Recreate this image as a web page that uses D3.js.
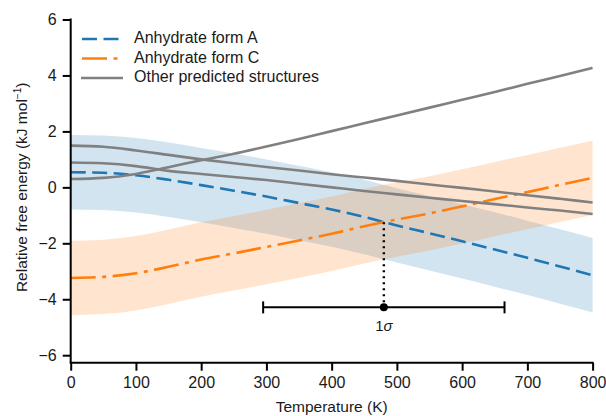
<!DOCTYPE html>
<html>
<head>
<meta charset="utf-8">
<script src="https://cdn.jsdelivr.net/npm/d3@7"></script>
<style>
  body { margin: 0; background: #fff; }
  text { font-family: "Liberation Sans", Arial, Helvetica, sans-serif; fill: #1a1a1a; }
</style>
</head>
<body>
<svg id="chart" width="606" height="416"></svg>
<script>
// Temperature grid (K) shared by all curves
const temps = [0, 50, 100, 150, 200, 250, 300, 350, 400, 450, 500, 550, 600, 650, 700, 750, 800];

// Relative free energy (kJ/mol) of each structure
const formA = [0.54, 0.52, 0.43, 0.27, 0.08, -0.12, -0.33, -0.56, -0.79, -1.06, -1.36, -1.64, -1.93, -2.22, -2.52, -2.83, -3.14];
const formC = [-3.24, -3.20, -3.07, -2.84, -2.58, -2.36, -2.13, -1.90, -1.66, -1.39, -1.15, -0.93, -0.68, -0.42, -0.17, 0.09, 0.34];
const otherRising = [0.30, 0.34, 0.48, 0.72, 0.97, 1.20, 1.46, 1.73, 2.01, 2.29, 2.57, 2.85, 3.13, 3.41, 3.70, 3.98, 4.27];
const otherUpper = [1.49, 1.45, 1.32, 1.16, 1.00, 0.86, 0.73, 0.60, 0.47, 0.35, 0.23, 0.10, -0.02, -0.15, -0.28, -0.41, -0.54];
const otherLower = [0.89, 0.86, 0.76, 0.59, 0.48, 0.37, 0.26, 0.13, 0.00, -0.13, -0.25, -0.37, -0.49, -0.60, -0.72, -0.83, -0.95];

// Uncertainty band half-width (kJ/mol) around forms A and C
const bandHalfWidth = 1.33;

// Crossing temperature with its 1σ interval
const crossingT = 480;
const crossingSigma = 185;
const crossingMarkerY = -4.29;

const xTicks = [0, 100, 200, 300, 400, 500, 600, 700, 800];
const yTicks = [-6, -4, -2, 0, 2, 4, 6];

const dashA = "15,6.5";
const dashC = "25,6.5,4,6.5";
const legendItems = [
  { label: "Anhydrate form A", color: "#1f77b4", dash: dashA, x1: 82, x2: 120 },
  { label: "Anhydrate form C", color: "#ff7f0e", dash: dashC, x1: 82, x2: 120 },
  { label: "Other predicted structures", color: "#808080", dash: null, x1: 81, x2: 123 }
];

const svg = d3.select("#chart");
const x = d3.scaleLinear().domain([0, 800]).range([70.7, 592.6]);
const y = d3.scaleLinear().domain([-6, 6]).range([355.2, 19.5]);
const axisY = 362.7;

const series = arr => temps.map((t, i) => ({ t, v: arr[i] }));

const line = d3.line().x(d => x(d.t)).y(d => y(d.v)).curve(d3.curveMonotoneX);
const band = d3.area()
  .x(d => x(d.t))
  .y0(d => y(d.v - bandHalfWidth))
  .y1(d => y(d.v + bandHalfWidth))
  .curve(d3.curveMonotoneX);

// Uncertainty bands
svg.append("path").datum(series(formA)).attr("d", band)
  .attr("fill", "#1f77b4").attr("fill-opacity", 0.2);
svg.append("path").datum(series(formC)).attr("d", band)
  .attr("fill", "#ff7f0e").attr("fill-opacity", 0.2);

// Form lines
svg.append("path").datum(series(formA)).attr("d", line)
  .attr("fill", "none").attr("stroke", "#1f77b4").attr("stroke-width", 2.6)
  .attr("stroke-dasharray", dashA);
svg.append("path").datum(series(formC)).attr("d", line)
  .attr("fill", "none").attr("stroke", "#ff7f0e").attr("stroke-width", 2.6)
  .attr("stroke-dasharray", dashC);

// Other predicted structures
[otherRising, otherUpper, otherLower].forEach(arr => {
  svg.append("path").datum(series(arr)).attr("d", line)
    .attr("fill", "none").attr("stroke", "#808080").attr("stroke-width", 2.6);
});

// Crossing point: dotted drop line, marker and 1σ interval
const crossV = d3.scaleLinear().domain(temps).range(formC)(crossingT);
svg.append("line")
  .attr("x1", x(crossingT)).attr("x2", x(crossingT))
  .attr("y1", y(crossV)).attr("y2", y(crossingMarkerY))
  .attr("stroke", "#000").attr("stroke-width", 2.4)
  .attr("stroke-dasharray", "2,4");
svg.append("line")
  .attr("x1", x(crossingT - crossingSigma)).attr("x2", x(crossingT + crossingSigma))
  .attr("y1", y(crossingMarkerY)).attr("y2", y(crossingMarkerY))
  .attr("stroke", "#000").attr("stroke-width", 2);
[crossingT - crossingSigma, crossingT + crossingSigma].forEach(t => {
  svg.append("line")
    .attr("x1", x(t)).attr("x2", x(t))
    .attr("y1", y(crossingMarkerY) - 6).attr("y2", y(crossingMarkerY) + 6)
    .attr("stroke", "#000").attr("stroke-width", 2);
});
svg.append("circle")
  .attr("cx", x(crossingT)).attr("cy", y(crossingMarkerY)).attr("r", 4)
  .attr("fill", "#000");
const sig = svg.append("text")
  .attr("x", x(crossingT)).attr("y", y(crossingMarkerY) + 24)
  .attr("text-anchor", "middle").attr("font-size", 15);
sig.append("tspan").text("1");
sig.append("tspan").attr("font-style", "italic").text("σ");

// Axes
const fmt = d => d < 0 ? "\u2212" + Math.abs(d) : String(d);
const xAxis = svg.append("g").attr("transform", `translate(0,${axisY})`)
  .call(d3.axisBottom(x).tickValues(xTicks).tickSize(8).tickPadding(6).tickSizeOuter(0));
const yAxis = svg.append("g").attr("transform", `translate(${x(0)},0)`)
  .call(d3.axisLeft(y).tickValues(yTicks).tickFormat(fmt).tickSize(8).tickPadding(6).tickSizeOuter(0));
[xAxis, yAxis].forEach(g => {
  g.select(".domain").remove();
  g.selectAll(".tick line").attr("stroke", "#000").attr("stroke-width", 2);
  g.selectAll(".tick text").attr("font-size", 16).attr("fill", "#1a1a1a")
    .style("font-family", '"Liberation Sans", Arial, sans-serif');
});
svg.append("line").attr("x1", x(0) - 1).attr("x2", x(800) + 1)
  .attr("y1", axisY).attr("y2", axisY).attr("stroke", "#000").attr("stroke-width", 2);
svg.append("line").attr("x1", x(0)).attr("x2", x(0))
  .attr("y1", y(6) - 1).attr("y2", axisY).attr("stroke", "#000").attr("stroke-width", 2);

// Axis titles
svg.append("text")
  .attr("x", (x(0) + x(800)) / 2).attr("y", 412)
  .attr("text-anchor", "middle").attr("font-size", 15.5)
  .text("Temperature (K)");
const yl = svg.append("text")
  .attr("transform", `translate(27,${y(0)}) rotate(-90)`)
  .attr("text-anchor", "middle").attr("font-size", 15.5);
yl.append("tspan").text("Relative free energy (kJ mol");
yl.append("tspan").attr("font-size", 10).attr("dy", -6).text("\u22121");
yl.append("tspan").attr("dy", 6).text(")");

// Legend
const legend = svg.append("g");
legendItems.forEach((d, i) => {
  const ly = 39 + i * 19.5;
  legend.append("line")
    .attr("x1", d.x1).attr("x2", d.x2).attr("y1", ly).attr("y2", ly)
    .attr("stroke", d.color).attr("stroke-width", 2.6)
    .attr("stroke-dasharray", d.dash);
  legend.append("text")
    .attr("x", 134).attr("y", ly + 4)
    .attr("font-size", 16).text(d.label);
});
</script>
</body>
</html>
